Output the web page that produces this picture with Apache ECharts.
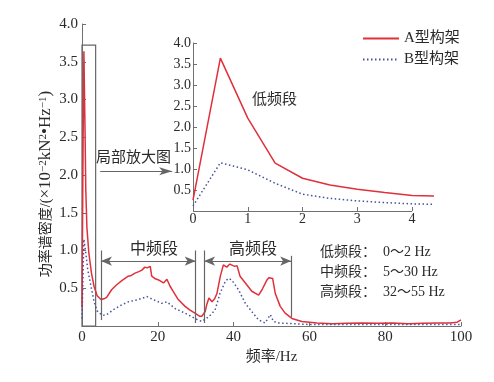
<!DOCTYPE html>
<html><head><meta charset="utf-8">
<script src="https://cdn.jsdelivr.net/npm/echarts@6/dist/echarts.min.js"></script>
<style>html,body{margin:0;padding:0;background:#fff}#c{width:494px;height:382px}</style>
</head><body><div id="c"></div>
<script>
// ---- main chart data (frequency Hz, PSD ×10^-2 kN^2/Hz) ----
const freqA = [0,0.3,0.5,0.8,1.0,1.3,1.8,2.5,3.2,4.0,5.0,5.8,6.5,7.8,9.0,10.5,12.2,13.0,14.0,15.0,15.8,16.6,17.2,18.0,18.4,19.2,20.2,21.5,22.4,23.2,24.3,25.4,27.2,28.5,29.8,31.0,31.6,32.5,32.9,33.5,34.3,35.0,35.6,36.5,37.3,38.2,39.0,39.5,40.3,40.9,41.7,43.1,44.8,46.6,47.5,48.8,49.3,49.7,50.3,51.0,52.3,53.6,55.4,58.0,62,66,70,74,78,82,86,90,94,97,99,100];
const powerA = [0.25,2.5,3.64,2.6,1.8,1.3,0.97,0.7,0.52,0.40,0.35,0.36,0.38,0.48,0.54,0.60,0.66,0.67,0.70,0.72,0.74,0.78,0.77,0.79,0.66,0.63,0.61,0.57,0.62,0.53,0.44,0.35,0.26,0.21,0.17,0.13,0.13,0.19,0.28,0.37,0.32,0.36,0.43,0.66,0.81,0.78,0.82,0.80,0.79,0.80,0.66,0.57,0.46,0.41,0.48,0.61,0.64,0.62,0.63,0.43,0.26,0.17,0.10,0.06,0.04,0.03,0.035,0.04,0.035,0.04,0.03,0.035,0.04,0.04,0.05,0.08];
const freqB = [0,0.5,1.0,1.5,2.4,3.2,4.0,4.6,5.5,6.5,8.7,10.5,12.2,14.9,17.1,18.8,21.0,22.4,24.6,27.2,29.8,30.7,31.6,33.4,35.1,36.4,37.8,38.6,39.5,41.3,43.1,44.8,46.6,48.3,49.7,50.5,52,56,60,70,80,90,100];
const powerB = [0.10,1.15,0.97,0.75,0.52,0.32,0.20,0.17,0.14,0.15,0.23,0.28,0.32,0.35,0.39,0.35,0.30,0.32,0.23,0.17,0.10,0.08,0.06,0.12,0.21,0.43,0.59,0.63,0.61,0.48,0.30,0.19,0.08,0.04,0.15,0.06,0.04,0.03,0.02,0.02,0.02,0.02,0.02];
// ---- inset (low-frequency zoom) data ----
const insetFreq = [0,0.5,1.0,1.5,2.0,2.5,3.0,3.5,4.0,4.4];
const insetA = [0.26,3.64,2.21,1.14,0.78,0.62,0.52,0.44,0.37,0.36];
const insetB = [0.12,1.15,0.98,0.66,0.40,0.30,0.24,0.20,0.17,0.16];
// ---- axis / annotation values ----
const seriesNames = ['A型构架','B型构架'];
const mainXTicks = {min:0, max:100, interval:20};
const yTicks = {min:0, max:4, interval:0.5};
const insetXTicks = {min:0, max:4.4, interval:1, lineEnd:4};
const zoomBox = {x0:0, x1:3.6, y0:0, y1:3.72};
const midBand = [5, 30];
const highBand = [32.2, 55.2];
const bandTexts = ['低频段：  0～2 Hz','中频段：  5～30 Hz','高频段：  32～55 Hz'];

const FONT = "'Liberation Serif','Noto Sans CJK SC',serif";
const RED = '#e0303b';
const BLUE = '#44539a';
const AXC = '#707070';
const TXT = '#2a2a2a';

const zip = (a,b)=>a.map((v,i)=>[v,b[i]]);

function axisCommon(extra){
  return Object.assign({
    type:'value',
    axisLine:{show:true,lineStyle:{color:AXC,width:1}},
    axisTick:{show:true,inside:true,length:4,lineStyle:{color:AXC}},
    splitLine:{show:false},
    axisLabel:{color:TXT,fontSize:15,fontFamily:FONT}
  }, extra);
}

const chart = echarts.init(document.getElementById('c'), null, {renderer:'canvas'});
const lineVert = (x,y0,y1)=>[{coord:[x,y0],symbol:'none'},{coord:[x,y1],symbol:'none'}];
const arrowH = (x0,x1,y)=>[{coord:[x0,y],symbol:'arrow'},{coord:[x1,y],symbol:'arrow'}];

const option = {
  animation:false,
  backgroundColor:'#fff',
  grid:[
    {left:82,right:33,top:24,bottom:56},
    {left:193,right:60,top:43,bottom:171}
  ],
  xAxis:[
    axisCommon({gridIndex:0,min:mainXTicks.min,max:mainXTicks.max,interval:mainXTicks.interval,
      axisLabel:{color:TXT,fontSize:15,fontFamily:FONT,margin:4},
      name:'频率/Hz',nameLocation:'middle',nameGap:19,
      nameTextStyle:{color:TXT,fontSize:15,fontFamily:FONT}}),
    axisCommon({gridIndex:1,min:insetXTicks.min,max:insetXTicks.max,interval:insetXTicks.interval,
      axisLine:{show:false},
      axisLabel:{color:TXT,fontSize:14,fontFamily:FONT,margin:1,showMaxLabel:false,
        formatter:v=>(Math.abs(v-Math.round(v))<1e-6?String(Math.round(v)):'')}})
  ],
  yAxis:[
    axisCommon({gridIndex:0,min:yTicks.min,max:yTicks.max,interval:yTicks.interval,
      axisLabel:{color:TXT,fontSize:15,fontFamily:FONT,margin:4,formatter:v=>v===0?'':v.toFixed(1)}}),
    axisCommon({gridIndex:1,min:yTicks.min,max:yTicks.max,interval:yTicks.interval,
      axisLabel:{color:TXT,fontSize:14,fontFamily:FONT,margin:2,formatter:v=>v===0?'':v.toFixed(1)}})
  ],
  legend:{
    data:seriesNames, orient:'vertical', left:357, top:26, itemWidth:36, itemHeight:12, itemGap:6,
    itemStyle:{color:'rgba(0,0,0,0)',borderWidth:0,opacity:0},
    textStyle:{color:TXT,fontSize:15,fontFamily:FONT}
  },
  series:[
    {name:seriesNames[0],type:'line',xAxisIndex:0,yAxisIndex:0,data:zip(freqA,powerA),
     symbol:'none',smooth:false,lineStyle:{color:RED,width:1.5},itemStyle:{color:RED},
     markArea:{silent:true,itemStyle:{color:'rgba(0,0,0,0)',borderColor:'#666',borderWidth:1.2},
       data:[[{coord:[zoomBox.x0,zoomBox.y0]},{coord:[zoomBox.x1,zoomBox.y1]}]]},
     markLine:{silent:true,animation:false,symbolSize:[7,11],label:{show:false},
       lineStyle:{color:'#666',width:1.2,type:'solid'},
       data:[
         lineVert(midBand[0],1.0,0.08),
         lineVert(midBand[1],1.0,0.04),
         lineVert(highBand[0],1.0,0.04),
         lineVert(highBand[1],0.93,0.12),
         arrowH(midBand[0],midBand[1],0.86),
         arrowH(highBand[0],highBand[1],0.86),
         [{coord:[4.8,2.05],symbol:'none'},{coord:[23.8,2.05],symbol:'arrow',symbolSize:[6,13]}]
       ]}
    },
    {name:seriesNames[1],type:'line',xAxisIndex:0,yAxisIndex:0,data:zip(freqB,powerB),
     symbol:'none',lineStyle:{color:BLUE,width:1.5,type:[1.5,2.5]},itemStyle:{color:BLUE}},
    {name:seriesNames[0],type:'line',xAxisIndex:1,yAxisIndex:1,data:zip(insetFreq,insetA),
     symbol:'none',lineStyle:{color:RED,width:1.5},itemStyle:{color:RED},
     markLine:{silent:true,animation:false,symbol:'none',label:{show:false},
       lineStyle:{color:AXC,width:1,type:'solid'},
       data:[[{coord:[0,0]},{coord:[insetXTicks.lineEnd,0]}]]}},
    {name:seriesNames[1],type:'line',xAxisIndex:1,yAxisIndex:1,data:zip(insetFreq,insetB),
     symbol:'none',lineStyle:{color:BLUE,width:1.5,type:[1.5,2.5]},itemStyle:{color:BLUE}}
  ],
  graphic:[
    {type:'text',x:46,y:184,rotation:Math.PI/2,
      style:{text:'功率谱密度/({l|×10}{s|−2}{l|kN}{s|2}{l|•Hz}{s|−1}{l|)}',fill:TXT,font:'14px '+FONT,
        align:'center',verticalAlign:'middle',
        rich:{
          l:{fontSize:17,fontFamily:FONT,fill:TXT},
          s:{fontSize:11,fontFamily:FONT,fill:TXT,verticalAlign:'top',padding:[0,0,6,0]}}}},
    {type:'text',left:252,top:93,style:{text:'低频段',fill:TXT,font:'15px '+FONT}},
    {type:'text',left:96,top:151,style:{text:'局部放大图',fill:TXT,font:'15px '+FONT}},
    {type:'text',left:130,top:242,style:{text:'中频段',fill:TXT,font:'16px '+FONT}},
    {type:'text',left:229,top:242,style:{text:'高频段',fill:TXT,font:'16px '+FONT}},
    {type:'text',left:320,top:245,style:{text:bandTexts[0],fill:TXT,font:'14px '+FONT}},
    {type:'text',left:320,top:265,style:{text:bandTexts[1],fill:TXT,font:'14px '+FONT}},
    {type:'text',left:320,top:285,style:{text:bandTexts[2],fill:TXT,font:'14px '+FONT}}
  ]
};
chart.setOption(option);
</script></body></html>
